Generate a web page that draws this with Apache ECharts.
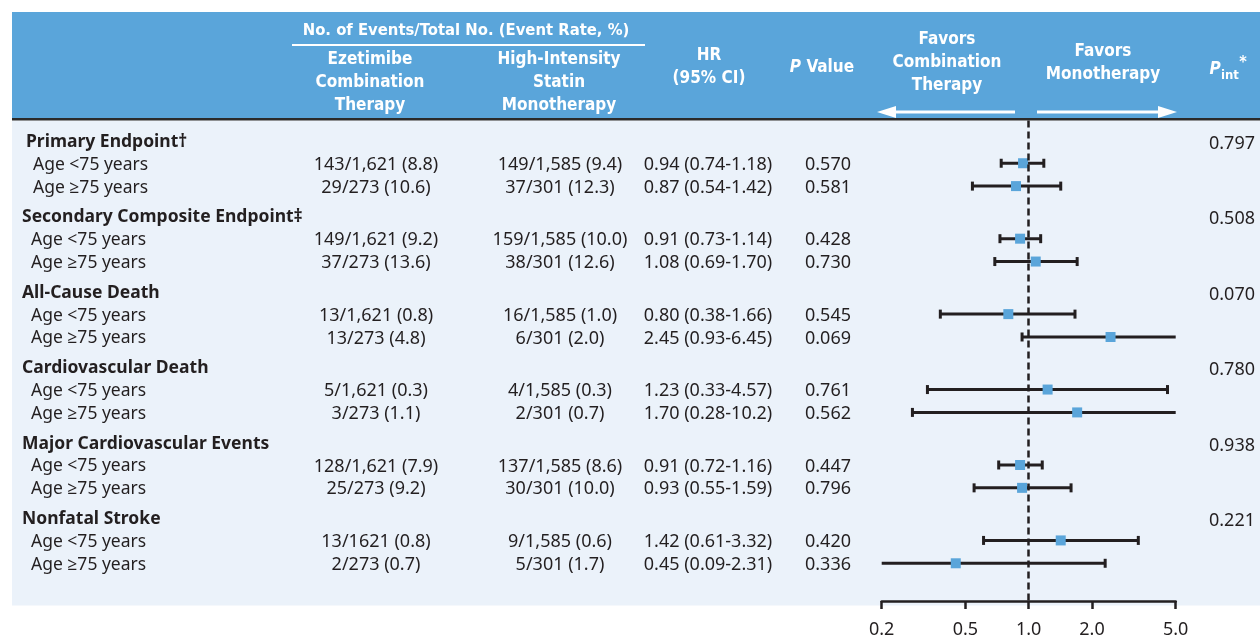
<!DOCTYPE html>
<html>
<head>
<meta charset="utf-8">
<script src="https://cdn.jsdelivr.net/npm/echarts@6/dist/echarts.min.js"></script>
<style>
  html, body { margin: 0; padding: 0; background: #ffffff; }
  #chart { width: 1260px; height: 639px; }
</style>
</head>
<body>
<div id="chart"></div>
<script>
// ---- Outcomes by age group ----
const groups = [
  'Primary Endpoint\u2020',
  'Secondary Composite Endpoint\u2021',
  'All-Cause Death',
  'Cardiovascular Death',
  'Major Cardiovascular Events',
  'Nonfatal Stroke'
];
const subgroups = ['Age <75 years', 'Age \u226575 years'];
const pInteraction = ['0.797', '0.508', '0.070', '0.780', '0.938', '0.221'];

// One entry per age row, in group order (<75, >=75)
const ezetimibeEvents = [
  '143/1,621 (8.8)', '29/273 (10.6)',
  '149/1,621 (9.2)', '37/273 (13.6)',
  '13/1,621 (0.8)', '13/273 (4.8)',
  '5/1,621 (0.3)', '3/273 (1.1)',
  '128/1,621 (7.9)', '25/273 (9.2)',
  '13/1621 (0.8)', '2/273 (0.7)'
];
const statinEvents = [
  '149/1,585 (9.4)', '37/301 (12.3)',
  '159/1,585 (10.0)', '38/301 (12.6)',
  '16/1,585 (1.0)', '6/301 (2.0)',
  '4/1,585 (0.3)', '2/301 (0.7)',
  '137/1,585 (8.6)', '30/301 (10.0)',
  '9/1,585 (0.6)', '5/301 (1.7)'
];
const hazardRatio = [0.94, 0.87, 0.91, 1.08, 0.80, 2.45, 1.23, 1.70, 0.91, 0.93, 1.42, 0.45];
const ciLower     = [0.74, 0.54, 0.73, 0.69, 0.38, 0.93, 0.33, 0.28, 0.72, 0.55, 0.61, 0.09];
const ciUpper     = [1.18, 1.42, 1.14, 1.70, 1.66, 6.45, 4.57, 10.2, 1.16, 1.59, 3.32, 2.31];
const pValues = ['0.570', '0.581', '0.428', '0.730', '0.545', '0.069', '0.761', '0.562', '0.447', '0.796', '0.420', '0.336'];

const axisTicks = [0.2, 0.5, 1, 2, 5];

// ---- Styling ----
const INK = '#231f20';
const HEADER_BLUE = '#5aa5da';
const BODY_BG = '#ebf2fa';
const BODY_FONT = '"Noto Sans", "Open Sans", sans-serif';
const HEAD_FONT = '"DejaVu Sans Condensed", "Liberation Sans Narrow", sans-serif';
const AXIS_MIN = axisTicks[0];
const AXIS_MAX = axisTicks[axisTicks.length - 1];
const GROUP_STEP = 3.3;   // vertical distance between group headings, in row units
const TEXT_NUDGE = 1.5;   // baseline nudge for table text

function fmtCI(v) { return v >= 10 ? v.toFixed(1) : v.toFixed(2); }

// Row layout: each group has a heading row followed by its two age rows
const rows = [];
groups.forEach((name, g) => {
  rows.push({ kind: 'group', g: g, pos: g * GROUP_STEP });
  subgroups.forEach((s, k) => {
    rows.push({ kind: 'sub', g: g, k: k, i: g * 2 + k, pos: g * GROUP_STEP + k + 1 });
  });
});
const ageRows = rows.filter(r => r.kind === 'sub');

// Column anchors for the table text
const COL = {
  label: 22, labelFirst: 26, sub: 31, subFirst: 33,
  eze: 376, statin: 560, hr: 708, p: 828, pint: 1255
};

function textEl(x, y, text, opts) {
  return {
    type: 'text',
    x: x, y: y + TEXT_NUDGE,
    style: Object.assign({
      text: text,
      fill: INK,
      font: '18px ' + BODY_FONT,
      textAlign: 'left',
      textVerticalAlign: 'middle'
    }, opts || {})
  };
}

function renderTableRow(params, api) {
  const r = rows[params.dataIndex];
  const y = api.coord([1, api.value(1)])[1];
  const kids = [];
  if (r.kind === 'group') {
    kids.push(textEl(r.g === 0 ? COL.labelFirst : COL.label, y, groups[r.g], { font: 'bold 17.5px ' + BODY_FONT }));
    kids.push(textEl(COL.pint, y + 2, pInteraction[r.g], { textAlign: 'right' }));
  } else {
    const i = r.i;
    kids.push(textEl(r.g === 0 ? COL.subFirst : COL.sub, y, subgroups[r.k], { font: '17.5px ' + BODY_FONT }));
    kids.push(textEl(COL.eze, y, ezetimibeEvents[i], { textAlign: 'center' }));
    kids.push(textEl(COL.statin, y, statinEvents[i], { textAlign: 'center' }));
    kids.push(textEl(COL.hr, y, hazardRatio[i].toFixed(2) + ' (' + fmtCI(ciLower[i]) + '-' + fmtCI(ciUpper[i]) + ')', { textAlign: 'center' }));
    kids.push(textEl(COL.p, y, pValues[i], { textAlign: 'center' }));
  }
  return { type: 'group', children: kids };
}

function renderInterval(params, api) {
  const est = api.value(0), lo = api.value(1), hi = api.value(2), pos = api.value(3);
  const loC = Math.max(lo, AXIS_MIN), hiC = Math.min(hi, AXIS_MAX);
  const p0 = api.coord([loC, pos]);
  const p1 = api.coord([hiC, pos]);
  const pm = api.coord([est, pos]);
  const lineStyle = { stroke: INK, lineWidth: 3 };
  const cap = 4.5, half = 5;
  const kids = [
    { type: 'line', shape: { x1: p0[0], y1: p0[1], x2: p1[0], y2: p1[1] }, style: lineStyle }
  ];
  // end caps only where the interval ends inside the axis range
  if (lo >= AXIS_MIN) kids.push({ type: 'line', shape: { x1: p0[0], y1: p0[1] - cap, x2: p0[0], y2: p0[1] + cap }, style: lineStyle });
  if (hi <= AXIS_MAX) kids.push({ type: 'line', shape: { x1: p1[0], y1: p1[1] - cap, x2: p1[0], y2: p1[1] + cap }, style: lineStyle });
  kids.push({ type: 'rect', shape: { x: pm[0] - half, y: pm[1] - half, width: half * 2, height: half * 2 }, style: { fill: HEADER_BLUE } });
  return { type: 'group', children: kids };
}

// ---- Header band drawn as graphic elements ----
function headText(x, y, text, extra) {
  return {
    type: 'text', x: x, y: y, z: 10,
    style: Object.assign({
      text: text, fill: '#ffffff', font: 'bold 17px ' + HEAD_FONT,
      textAlign: 'center', textVerticalAlign: 'middle', lineHeight: 23
    }, extra || {})
  };
}

const headerGraphics = [
  { type: 'rect', shape: { x: 12, y: 12, width: 1248, height: 106 }, style: { fill: HEADER_BLUE }, z: 1 },
  { type: 'rect', shape: { x: 12, y: 118, width: 1248, height: 2.5 }, style: { fill: '#2b2b2b' }, z: 1 },
  { type: 'rect', shape: { x: 12, y: 120.5, width: 1248, height: 485 }, style: { fill: BODY_BG }, z: -10 },
  headText(466, 31, 'No. of Events/Total No. (Event Rate, %)', { font: 'bold 16.5px ' + HEAD_FONT }),
  { type: 'line', z: 10, shape: { x1: 292, y1: 45, x2: 645, y2: 45 }, style: { stroke: '#ffffff', lineWidth: 2 } },
  headText(370, 82.5, 'Ezetimibe\nCombination\nTherapy'),
  headText(559, 82.5, 'High-Intensity\nStatin\nMonotherapy'),
  headText(709, 67.5, 'HR\n(95% CI)'),
  headText(822, 68, '{i|P} Value', { rich: { i: { font: 'italic bold 17px ' + HEAD_FONT, fill: '#ffffff' } } }),
  headText(947, 62.5, 'Favors\nCombination\nTherapy'),
  headText(1103, 63.5, 'Favors\nMonotherapy'),
  headText(1215, 70, 'P', { font: 'italic bold 17px ' + HEAD_FONT }),
  headText(1230, 76, 'int', { font: 'bold 13px ' + HEAD_FONT }),
  headText(1243, 63, '*', { font: 'bold 16px ' + HEAD_FONT }),
  // direction arrows
  { type: 'line', z: 10, shape: { x1: 1015, y1: 112, x2: 892, y2: 112 }, style: { stroke: '#ffffff', lineWidth: 3 } },
  { type: 'polygon', z: 10, shape: { points: [[877, 112], [896, 106], [896, 118]] }, style: { fill: '#ffffff' } },
  { type: 'line', z: 10, shape: { x1: 1037, y1: 112, x2: 1161, y2: 112 }, style: { stroke: '#ffffff', lineWidth: 3 } },
  { type: 'polygon', z: 10, shape: { points: [[1177, 112], [1158, 106], [1158, 118]] }, style: { fill: '#ffffff' } }
];

const chart = echarts.init(document.getElementById('chart'), null, { renderer: 'canvas' });

chart.setOption({
  animation: false,
  backgroundColor: '#ffffff',
  grid: { left: 881.7, right: 84.3, top: 120.5, bottom: 35, containLabel: false },
  xAxis: {
    type: 'log',
    logBase: 10,
    min: AXIS_MIN,
    max: AXIS_MAX,
    position: 'bottom',
    splitLine: { show: false },
    axisLine: { show: true, onZero: false, lineStyle: { color: INK, width: 2.5 } },
    axisTick: { show: true, inside: false, length: 8, customValues: axisTicks, lineStyle: { color: INK, width: 2.5 } },
    axisLabel: {
      customValues: axisTicks,
      margin: 20,
      color: INK,
      fontSize: 18,
      fontFamily: BODY_FONT,
      formatter: v => Number(v).toFixed(1)
    }
  },
  yAxis: {
    type: 'value',
    inverse: true,
    min: -0.87,
    max: 20.15,
    show: false
  },
  graphic: headerGraphics,
  series: [
    {
      type: 'custom',
      name: 'table',
      renderItem: renderTableRow,
      data: rows.map(r => [1, r.pos]),
      encode: { x: 0, y: 1 },
      clip: false,
      silent: true,
      z: 5
    },
    {
      type: 'custom',
      name: 'HR (95% CI)',
      renderItem: renderInterval,
      data: ageRows.map(r => [hazardRatio[r.i], ciLower[r.i], ciUpper[r.i], r.pos]),
      encode: { x: [0, 1, 2], y: 3 },
      clip: false,
      z: 4,
      markLine: {
        silent: true,
        symbol: ['none', 'none'],
        label: { show: false },
        lineStyle: { color: INK, width: 2.5, type: [7, 4] },
        data: [{ xAxis: 1 }]
      }
    }
  ]
});
</script>
</body>
</html>
